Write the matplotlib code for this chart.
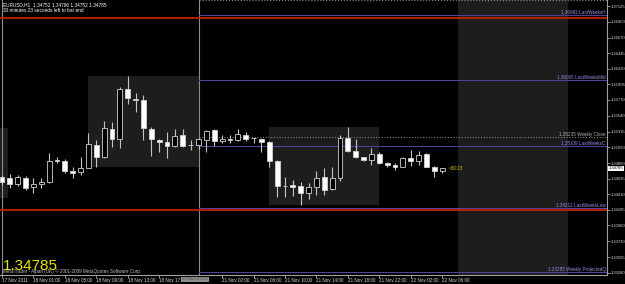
import matplotlib.pyplot as plt
from matplotlib.patches import Rectangle
from matplotlib.transforms import blended_transform_factory

plt.rcParams['font.family'] = ['Liberation Sans', 'DejaVu Sans']

# EURUSD H1 candles, 17 Nov 2011 21:00 .. 22 Nov 06:00 (bar 25 starts the new week)
opens = [1.34659, 1.34645, 1.34558, 1.34645, 1.34515, 1.34558, 1.34587, 1.34904, 1.34890, 1.34746,
         1.34731, 1.34789, 1.35121, 1.34948, 1.35351, 1.35207, 1.35928, 1.35784, 1.35777, 1.35351,
         1.35200, 1.35164, 1.35106, 1.35265, 1.35121, 1.35121, 1.35193, 1.35337, 1.35179, 1.35203,
         1.35193, 1.35265, 1.35222, 1.35203, 1.35164, 1.34890, 1.34529, 1.34540, 1.34529, 1.34428,
         1.34515, 1.34659, 1.34486, 1.34645, 1.35222, 1.35034, 1.34944, 1.34904, 1.34991, 1.34857,
         1.34832, 1.34803, 1.34929, 1.34894, 1.34986, 1.34808, 1.34752]
highs = [1.34688, 1.34702, 1.34688, 1.34674, 1.34645, 1.34645, 1.35005, 1.34948, 1.34919, 1.34803,
         1.34948, 1.35294, 1.35193, 1.35467, 1.35452, 1.35957, 1.36116, 1.35870, 1.35842, 1.35380,
         1.35207, 1.35308, 1.35351, 1.35351, 1.35193, 1.35222, 1.35337, 1.35351, 1.35265, 1.35265,
         1.35351, 1.35308, 1.35226, 1.35217, 1.35179, 1.34904, 1.34659, 1.34616, 1.34587, 1.34573,
         1.34746, 1.34789, 1.34803, 1.35265, 1.35380, 1.35207, 1.34952, 1.35078, 1.35020, 1.34876,
         1.34861, 1.34948, 1.35049, 1.35034, 1.35001, 1.34818, 1.34796]
lows = [1.34544, 1.34500, 1.34529, 1.34472, 1.34428, 1.34500, 1.34573, 1.34861, 1.34717, 1.34645,
        1.34688, 1.34782, 1.34803, 1.34940, 1.35092, 1.35078, 1.35712, 1.35596, 1.35193, 1.34962,
        1.35020, 1.34933, 1.35092, 1.35092, 1.35049, 1.35063, 1.35020, 1.35106, 1.35150, 1.35150,
        1.35179, 1.35179, 1.35150, 1.35020, 1.34803, 1.34371, 1.34371, 1.34385, 1.34255, 1.34342,
        1.34399, 1.34399, 1.34472, 1.34601, 1.35020, 1.34933, 1.34890, 1.34832, 1.34847, 1.34803,
        1.34760, 1.34800, 1.34818, 1.34832, 1.34799, 1.34659, 1.34720]
closes = [1.34587, 1.34558, 1.34659, 1.34500, 1.34558, 1.34587, 1.34890, 1.34897, 1.34746, 1.34717,
          1.34789, 1.35135, 1.34948, 1.35366, 1.35207, 1.35928, 1.35798, 1.35770, 1.35366, 1.35207,
          1.35164, 1.35106, 1.35251, 1.35106, 1.35117, 1.35207, 1.35323, 1.35179, 1.35207, 1.35199,
          1.35280, 1.35207, 1.35215, 1.35160, 1.34890, 1.34529, 1.34525, 1.34519, 1.34428, 1.34515,
          1.34645, 1.34472, 1.34645, 1.35222, 1.35034, 1.34948, 1.34904, 1.34991, 1.34861, 1.34837,
          1.34808, 1.34933, 1.34894, 1.34977, 1.34808, 1.34752, 1.34785]

# time axis labels
tick_bars = [0, 4, 8, 12, 16, 20, 28, 32, 36, 40, 44, 48, 52, 56]
tick_labels = ['17 Nov 2011', '18 Nov 01:00', '18 Nov 05:00', '18 Nov 09:00', '18 Nov 13:00',
               '18 Nov 17:00', '21 Nov 02:00', '21 Nov 06:00', '21 Nov 10:00', '21 Nov 14:00',
               '21 Nov 18:00', '21 Nov 22:00', '22 Nov 02:00', '22 Nov 06:00']

# price axis labels
price_ticks = [1.37125, 1.36900, 1.36670, 1.36445, 1.36220, 1.35995, 1.35770, 1.35540, 1.35315,
               1.35090, 1.34860, 1.34635, 1.34410, 1.34185, 1.33960, 1.33730, 1.33505, 1.33280]

# weekly levels, drawn from the week separator to the right edge
level_names = ['LastWeeksH', 'LastWeeksMid', 'Weekly Close', 'LastWeeksC', 'LastWeeksLow', 'Weekly ProjectedQ']
level_prices = [1.36992, 1.36065, 1.35235, 1.35109, 1.34212, 1.33285]
level_colors = ['#54409a', '#54409a', '#8a8a8a', '#54409a', '#54409a', '#54409a']
level_styles = ['-', '-', ':', '-', '-', '-']
top_level = 1.37205

# daily high / low lines across the whole chart
red_levels = [1.36950, 1.34185]

# session boxes (bar from, bar to, price top, price bottom)
box_start = [-1, 11, 34, 58]
box_end = [0.8, 25, 48, 72]
box_top = [1.35365, 1.36116, 1.35380, 1.3730]
box_bottom = [1.34356, 1.34800, 1.34260, 1.3310]

week_separators = [0, 25]
current_price = 1.34785

fig = plt.figure(figsize=(6.25, 2.84), dpi=100, facecolor='black')
ax = fig.add_axes([0, 9 / 284, 607 / 625, 275 / 284])
ax.set_facecolor('black')
ax.set_xlim(-0.254, 76.97)
ax.set_ylim(1.33246, 1.37212)

for b0, b1, top, bot in zip(box_start, box_end, box_top, box_bottom):
    ax.add_patch(Rectangle((b0, bot), b1 - b0, top - bot, facecolor='#1d1d1d', edgecolor='none', zorder=0))

for xs in week_separators:
    ax.axvline(xs, color='#8c8c8c', lw=0.8, zorder=1)

for p in red_levels:
    ax.axhline(p, color='#c81e00', lw=1.3, zorder=2)

ax.plot([week_separators[1], 76.97], [top_level, top_level], color='#8a8a8a', lw=0.8, ls=':', zorder=2)
for name, p, c, ls in zip(level_names, level_prices, level_colors, level_styles):
    ax.plot([week_separators[1], 76.97], [p, p], color=c, lw=0.75, ls=ls, zorder=2)
    txt_color = '#b0b0b0' if ls == ':' else '#9c8ce6'
    ax.text(76.8, p, f'{p:.5f} {name}', color=txt_color, fontsize=3.3, ha='right', va='bottom', zorder=5)

# candles: white body = bear, black body = bull
w = 0.62
for i, (o, h, l, c) in enumerate(zip(opens, highs, lows, closes)):
    ax.vlines(i, l, h, color='#c4c4c4', lw=0.8, zorder=3)
    body_low = min(o, c)
    body_h = max(abs(c - o), 0.00003)
    face = 'white' if c < o else 'black'
    ax.add_patch(Rectangle((i - w / 2, body_low), w, body_h, facecolor=face,
                           edgecolor='#d0d0d0', lw=0.6, zorder=4))

ax.text(56.8, current_price, '<30:23', color='#d2d200', fontsize=3.3, va='center', zorder=5)

# axes look
for s in ['top', 'left']:
    ax.spines[s].set_visible(False)
for s in ['right', 'bottom']:
    ax.spines[s].set_color('#a0a0a0')
    ax.spines[s].set_linewidth(0.8)

ax.yaxis.tick_right()
ax.set_yticks(price_ticks)
ax.set_yticklabels([f'{p:.5f}' for p in price_ticks])
ax.tick_params(axis='y', colors='#a0a0a0', labelcolor='#d8d8d8', labelsize=3.0, length=2, width=0.6, pad=0.6)

ax.set_xticks(tick_bars)
ax.set_xticklabels(tick_labels)
ax.tick_params(axis='x', colors='#a0a0a0', labelcolor='#d8d8d8', labelsize=3.3, length=2, width=0.6, pad=0.5)
for lab in ax.get_xticklabels():
    lab.set_ha('left')

# current price marker on the price scale
trans = blended_transform_factory(ax.transAxes, ax.transData)
ax.text(1.003, current_price, f'{current_price:.5f}', transform=trans, fontsize=3.0, color='black',
        ha='left', va='center', bbox=dict(facecolor='white', edgecolor='none', pad=0.5), clip_on=False)

# separator date on the time scale
ax.text(22.9, 1.33246 - 0.00062, '20 Nov 23:00', fontsize=3.2, color='#555555', ha='left', va='center',
        bbox=dict(facecolor='#8c8c8c', edgecolor='none', pad=0.5), clip_on=False)

# header and footer texts
fig.text(3 / 625, 1 - 5 / 284, 'EURUSD,H1  1.34752 1.34796 1.34752 1.34785', color='white',
         fontsize=3.4, va='center')
fig.text(3 / 625, 1 - 11 / 284, '30 minutes 23 seconds left to bar end', color='white',
         fontsize=3.4, va='center')
fig.text(3 / 625, 1 - 266 / 284, f'{current_price:.5f}', color='#e6e600', fontsize=11, va='center')
fig.text(3 / 625, 1 - 271 / 284, 'MetaTrader - Alpari (UK) \u00a9 2001-2009 MetaQuotes Software Corp.',
         color='#c0c0c0', fontsize=3.3, va='center')

fig.savefig('out.png', dpi=100, facecolor='black')
